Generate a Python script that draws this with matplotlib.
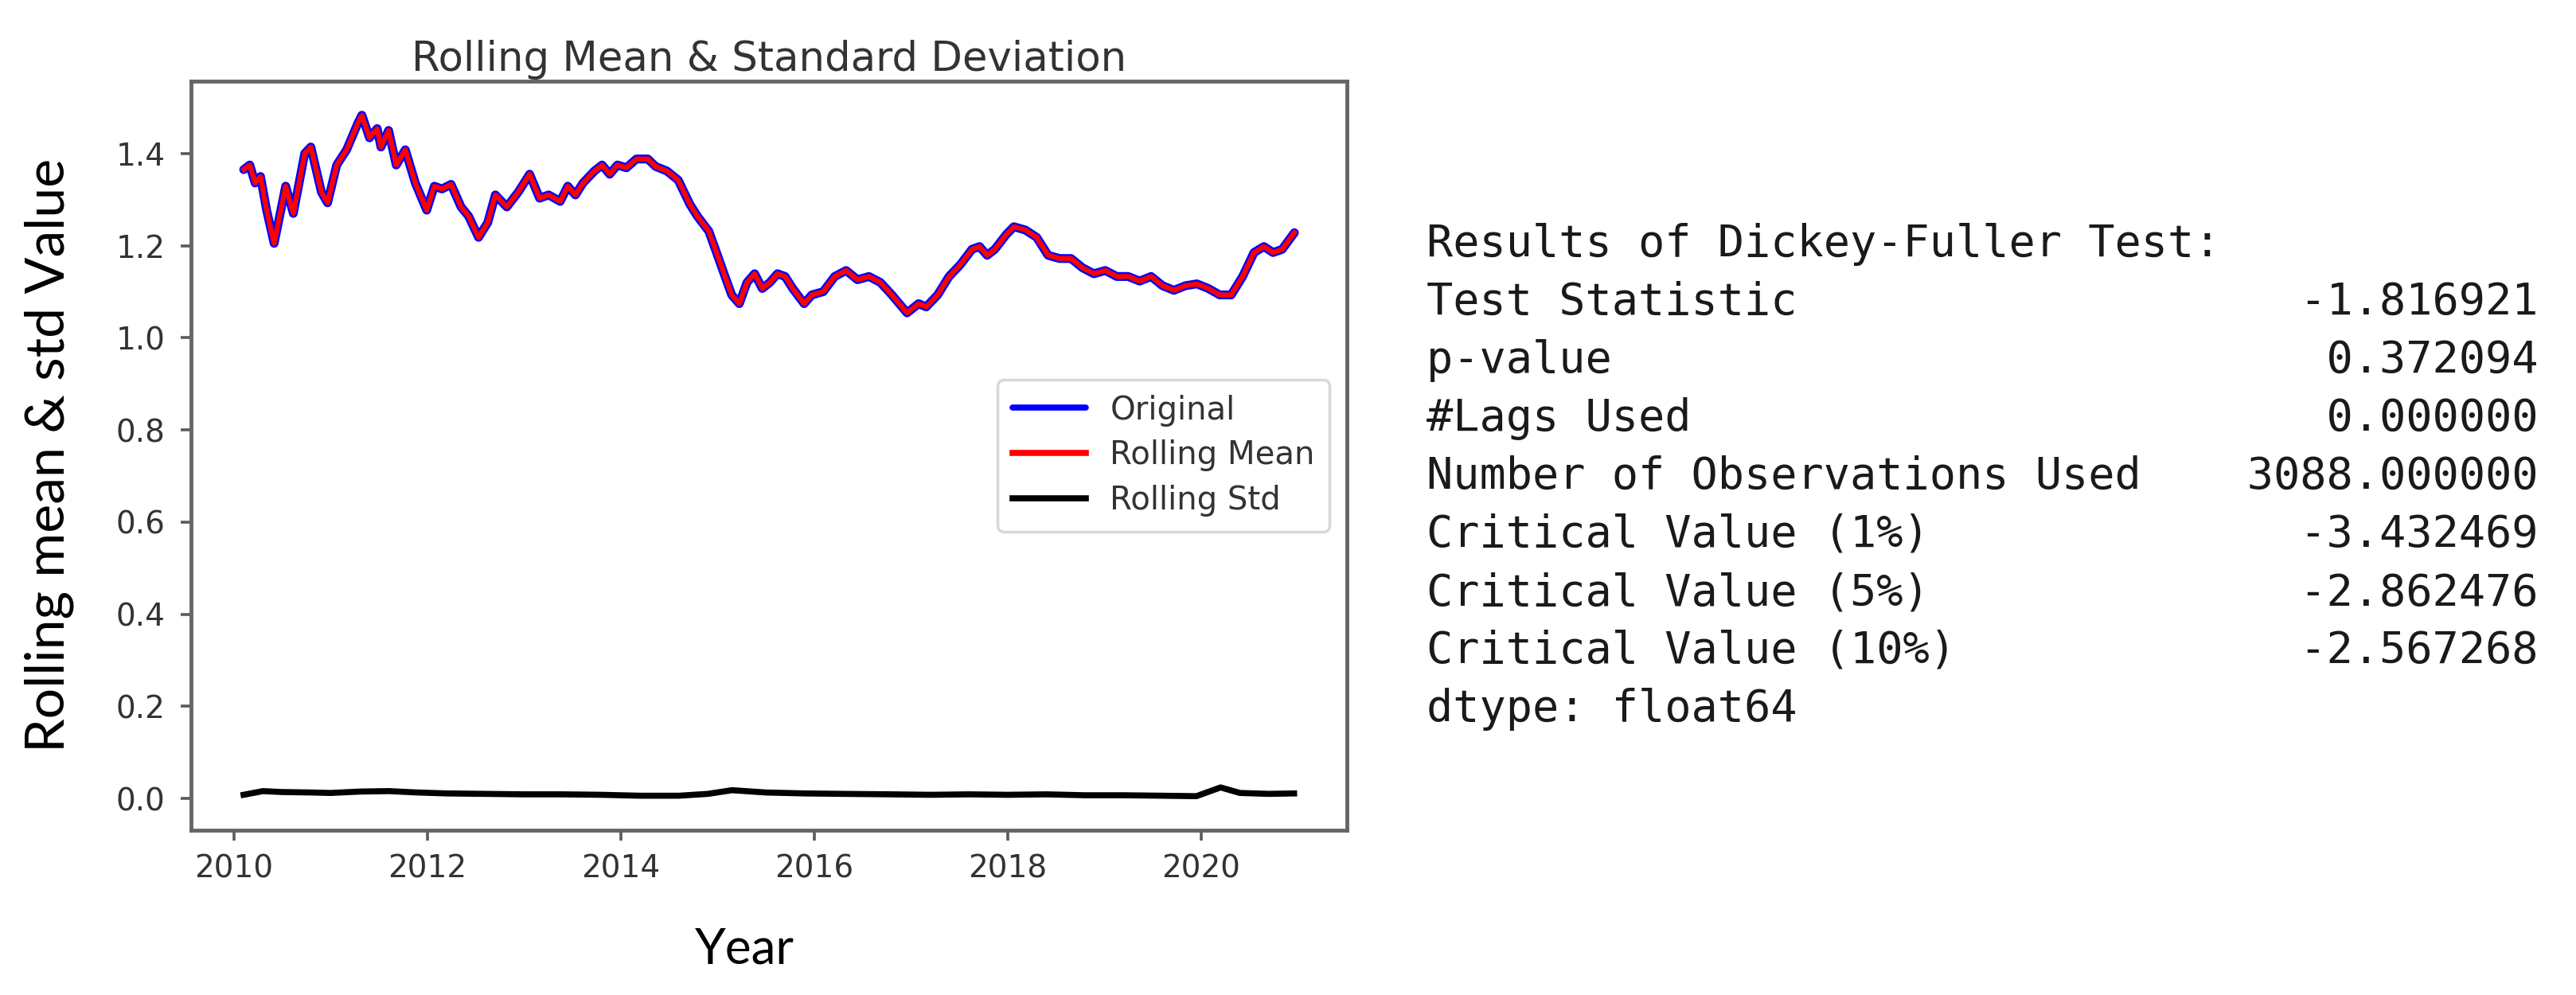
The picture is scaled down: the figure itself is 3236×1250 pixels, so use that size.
import numpy as np
import pandas as pd
import matplotlib
matplotlib.use("Agg")
import matplotlib.pyplot as plt
import matplotlib.dates as mdates
from matplotlib.ticker import MultipleLocator, FormatStrFormatter

# ---------------- data ----------------
orig_years = [2010.101, 2010.164, 2010.219, 2010.275, 2010.338, 2010.416, 2010.535, 2010.614,
              2010.732, 2010.795, 2010.905, 2010.968, 2011.063, 2011.165, 2011.284, 2011.323,
              2011.402, 2011.481, 2011.520, 2011.599, 2011.678, 2011.772, 2011.875, 2011.993,
              2012.072, 2012.151, 2012.245, 2012.348, 2012.426, 2012.529, 2012.624, 2012.703,
              2012.821, 2012.939, 2013.057, 2013.160, 2013.254, 2013.373, 2013.452, 2013.530,
              2013.609, 2013.727, 2013.806, 2013.885, 2013.964, 2014.058, 2014.161, 2014.279,
              2014.358, 2014.476, 2014.594, 2014.713, 2014.791, 2014.910, 2014.989, 2015.067,
              2015.146, 2015.225, 2015.304, 2015.383, 2015.462, 2015.540, 2015.619, 2015.698,
              2015.777, 2015.895, 2015.974, 2016.092, 2016.211, 2016.329, 2016.447, 2016.565,
              2016.684, 2016.802, 2016.959, 2017.078, 2017.157, 2017.275, 2017.393, 2017.511,
              2017.630, 2017.708, 2017.787, 2017.866, 2017.984, 2018.063, 2018.181, 2018.299,
              2018.417, 2018.536, 2018.654, 2018.772, 2018.890, 2019.009, 2019.127, 2019.245,
              2019.364, 2019.482, 2019.600, 2019.718, 2019.837, 2019.955, 2020.073, 2020.191,
              2020.310, 2020.428, 2020.546, 2020.648, 2020.743, 2020.837, 2020.963]
orig_values = [1.365, 1.375, 1.336, 1.350, 1.277, 1.205, 1.329, 1.270,
               1.400, 1.414, 1.316, 1.293, 1.375, 1.408, 1.467, 1.483,
               1.434, 1.454, 1.414, 1.450, 1.375, 1.408, 1.336, 1.277,
               1.329, 1.323, 1.333, 1.284, 1.264, 1.218, 1.250, 1.310,
               1.284, 1.316, 1.355, 1.303, 1.310, 1.296, 1.329, 1.310,
               1.336, 1.362, 1.375, 1.355, 1.375, 1.369, 1.388, 1.388,
               1.372, 1.362, 1.342, 1.290, 1.264, 1.231, 1.185, 1.139,
               1.093, 1.074, 1.120, 1.139, 1.107, 1.120, 1.139, 1.133,
               1.107, 1.074, 1.093, 1.100, 1.133, 1.146, 1.126, 1.133,
               1.120, 1.093, 1.054, 1.074, 1.067, 1.093, 1.133, 1.159,
               1.192, 1.198, 1.179, 1.192, 1.224, 1.241, 1.234, 1.218,
               1.179, 1.172, 1.172, 1.152, 1.139, 1.146, 1.133, 1.133,
               1.123, 1.133, 1.113, 1.103, 1.113, 1.117, 1.107, 1.093,
               1.093, 1.133, 1.185, 1.198, 1.185, 1.192, 1.228]

std_years = [2010.10, 2010.30, 2010.50, 2010.80, 2011.00, 2011.30, 2011.60, 2011.90,
             2012.20, 2012.60, 2013.00, 2013.40, 2013.80, 2014.20, 2014.60, 2014.90,
             2015.15, 2015.50, 2015.90, 2016.30, 2016.80, 2017.20, 2017.60, 2018.00,
             2018.40, 2018.80, 2019.20, 2019.60, 2019.95, 2020.20, 2020.40, 2020.70, 2020.96]
std_values = [0.008, 0.016, 0.014, 0.013, 0.012, 0.015, 0.016, 0.013,
              0.011, 0.010, 0.009, 0.009, 0.008, 0.006, 0.006, 0.010,
              0.018, 0.013, 0.011, 0.010, 0.009, 0.008, 0.009, 0.008,
              0.009, 0.007, 0.007, 0.006, 0.005, 0.024, 0.012, 0.010, 0.011]

df_labels = ["Test Statistic", "p-value", "#Lags Used", "Number of Observations Used",
             "Critical Value (1%)", "Critical Value (5%)", "Critical Value (10%)"]
df_values = [-1.816921, 0.372094, 0.0, 3088.0, -3.432469, -2.862476, -2.567268]

legend_labels = ["Original", "Rolling Mean", "Rolling Std"]


def to_dates(years):
    y = np.asarray(years, dtype=float)
    base = pd.Timestamp("2010-01-01")
    return base + pd.to_timedelta((y - 2010.0) * 365.25, unit="D")


orig = pd.Series(orig_values, index=to_dates(orig_years))
# the rolling mean hugs the original at this scale; read values are used for both
rolmean = orig.rolling(1, min_periods=1).mean()
rolstd = pd.Series(std_values, index=to_dates(std_years))

# ---------------- figure ----------------
W, H, DPI = 3236, 1250, 100
fig = plt.figure(figsize=(W / DPI, H / DPI), dpi=DPI)
fig.patch.set_facecolor("white")

ax_l, ax_r, ax_t, ax_b = 240, 1692, 102, 1043
ax = fig.add_axes([ax_l / W, 1 - ax_b / H, (ax_r - ax_l) / W, (ax_b - ax_t) / H])

ax.plot(orig.index, orig.values, color="blue", lw=8, label=legend_labels[0],
        solid_joinstyle="round", solid_capstyle="round")
ax.plot(rolmean.index, rolmean.values, color="red", lw=4.5, label=legend_labels[1],
        solid_joinstyle="round")
ax.plot(rolstd.index, rolstd.values, color="black", lw=5.5, label=legend_labels[2],
        solid_joinstyle="round")

ax.xaxis.set_major_locator(mdates.YearLocator(2))
ax.xaxis.set_major_formatter(mdates.DateFormatter("%Y"))
ax.yaxis.set_major_locator(MultipleLocator(0.2))
ax.yaxis.set_major_formatter(FormatStrFormatter("%.1f"))

for s in ax.spines.values():
    s.set_linewidth(3.5)
    s.set_color("#666666")
ax.tick_params(axis="both", length=9.5, width=2.6, color="#5a5a5a",
               labelsize=28, labelcolor="#333333")
ax.tick_params(axis="x", pad=12)
ax.tick_params(axis="y", pad=14)

ax.set_title("Rolling Mean & Standard Deviation", fontsize=37, color="#333333", pad=9)

leg = ax.legend(loc="center right", fontsize=29, handlelength=2.3, handletextpad=0.75,
                labelspacing=0.42, borderpad=0.45, borderaxespad=0.55, fancybox=True,
                framealpha=1.0, edgecolor="#d8d8d8")
for t in leg.get_texts():
    t.set_color("#333333")
for ln in leg.get_lines():
    ln.set_linewidth(5.5)
leg.get_frame().set_linewidth(2.5)

# axis labels (added outside the axes, as in the source image)
ylab = fig.text(62 / W, 1 - 572 / H, "Rolling mean & std Value", rotation=90,
                ha="center", va="center", fontsize=42, family=["Lato", "DejaVu Sans"],
                color="black")
xlab = fig.text(935 / W, 1 - 1193 / H, "Year", ha="center", va="center",
                fontsize=42, family=["Lato", "DejaVu Sans"], color="black")

fig.canvas.draw()
renderer = fig.canvas.get_renderer()


def fit(t, target, vertical=False):
    bb = t.get_window_extent(renderer)
    cur = bb.height if vertical else bb.width
    t.set_fontsize(t.get_fontsize() * target / cur)


fit(ylab, 747, vertical=True)
fit(xlab, 125)

# Dickey-Fuller text block
mono = ["DejaVu Sans Mono"]
x0 = 1792
base0 = 322
step = 73
lines = ["Results of Dickey-Fuller Test:"]
for lab, val in zip(df_labels, df_values):
    lines.append(f"{lab:<27}{val:>15.6f}")
lines.append("dtype: float64")
for i, ln in enumerate(lines):
    fig.text(x0 / W, 1 - (base0 + step * i) / H, ln, ha="left", va="baseline",
             fontsize=39.8, family=mono, color="#1a1a1a")

fig.savefig("out.png", dpi=DPI, facecolor="white")
